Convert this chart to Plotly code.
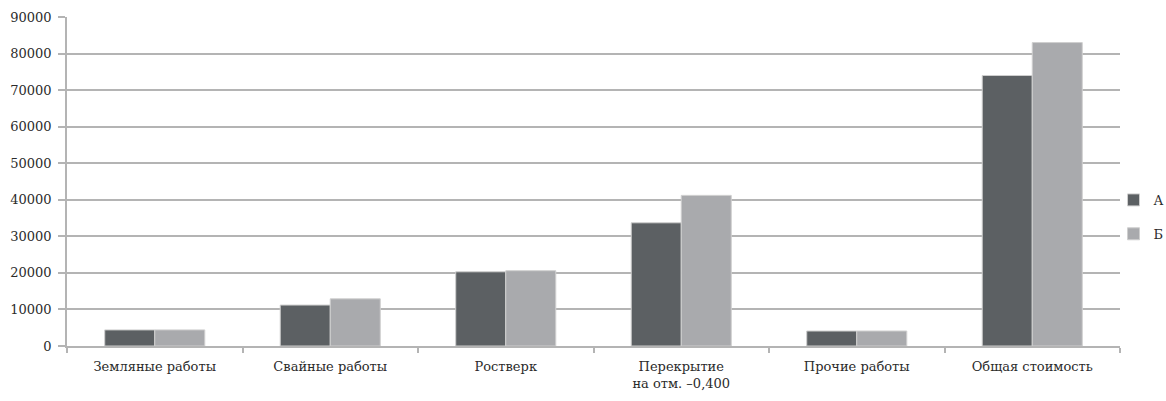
import plotly.graph_objects as go

categories = [
    "Земляные работы",
    "Свайные работы",
    "Ростверк",
    "Перекрытие<br>на отм. –0,400",
    "Прочие работы",
    "Общая стоимость",
]
series_a = [4400, 11200, 20300, 33700, 4100, 74000]
series_b = [4400, 12900, 20600, 41200, 4100, 83000]
y_ticks = [0, 10000, 20000, 30000, 40000, 50000, 60000, 70000, 80000, 90000]

font_family = "DejaVu Serif, Liberation Serif, serif"
grid_color = "#b4b4b4"

fig = go.Figure()
fig.add_trace(go.Bar(
    name="А", x=categories, y=series_a, legendgroup="a",
    marker=dict(color="#5c6063", line=dict(color="#cfcfcf", width=1)),
))
fig.add_trace(go.Bar(
    name="Б", x=categories, y=series_b, legendgroup="b",
    marker=dict(color="#a9aaad", line=dict(color="#cfcfcf", width=1)),
))

fig.update_layout(
    width=1166, height=401,
    margin=dict(l=67, r=46, t=17, b=55, autoexpand=False),
    paper_bgcolor="white", plot_bgcolor="white",
    barmode="group", bargap=0.43, bargroupgap=0,
    font=dict(family=font_family, size=13, color="#2b2b2b"),
    legend=dict(
        xref="container", yref="container",
        x=0.955, y=0.459, xanchor="left", yanchor="middle",
        font=dict(size=13), traceorder="grouped", tracegroupgap=14,
        itemwidth=30, bgcolor="rgba(0,0,0,0)",
    ),
    xaxis=dict(
        type="category",
        showline=True, linecolor=grid_color, linewidth=1.5,
        ticks="outside", tickson="boundaries", ticklen=5,
        tickcolor=grid_color, tickwidth=1.5,
        showgrid=False, ticklabelstandoff=8,
        tickfont=dict(size=13),
    ),
    yaxis=dict(
        range=[0, 90000], tickvals=y_ticks,
        tickformat="d",
        showline=True, linecolor=grid_color, linewidth=1.5,
        ticks="outside", ticklen=7, tickcolor=grid_color, tickwidth=1.5,
        showgrid=True, gridcolor=grid_color, gridwidth=1.5,
        zeroline=False, ticklabelstandoff=4,
        tickfont=dict(size=13),
    ),
)

fig.write_html("out.html")
